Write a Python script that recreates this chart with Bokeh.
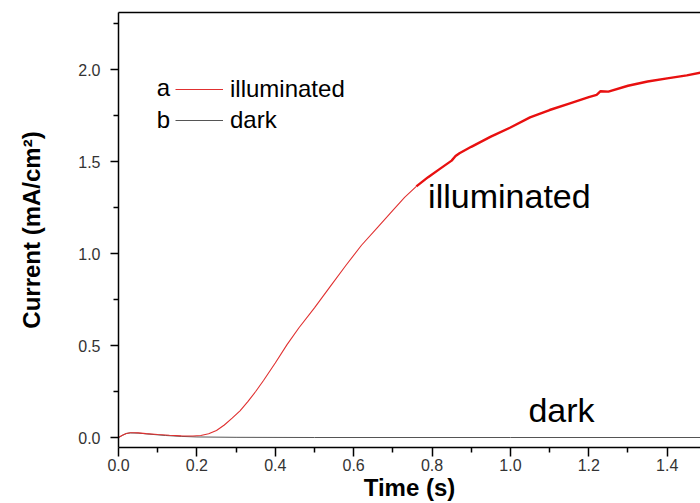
from bokeh.plotting import figure
from bokeh.models import (Range1d, FixedTicker, PrintfTickFormatter, Label,
                          Legend, LegendItem, LinearAxis)
from bokeh.embed import file_html
from bokeh.resources import INLINE

# ---- data ----
illum_t = [0.00, 0.01, 0.02, 0.03, 0.04, 0.05, 0.07, 0.10, 0.13, 0.16, 0.19,
           0.21, 0.23, 0.25, 0.27, 0.29, 0.31, 0.33, 0.35, 0.37, 0.40, 0.43,
           0.46, 0.50, 0.54, 0.58, 0.62, 0.66, 0.70, 0.73, 0.76]
illum_i = [0.000, 0.012, 0.022, 0.026, 0.026, 0.025, 0.021, 0.016, 0.012, 0.009, 0.008,
           0.011, 0.020, 0.038, 0.068, 0.105, 0.145, 0.195, 0.250, 0.310, 0.405, 0.505,
           0.595, 0.705, 0.820, 0.935, 1.045, 1.140, 1.235, 1.305, 1.365]
illum_t2 = [0.76, 0.79, 0.82, 0.85, 0.86, 0.87, 0.90, 0.95, 1.00, 1.05, 1.10, 1.15,
            1.20, 1.22, 1.23, 1.25, 1.30, 1.35, 1.40, 1.45, 1.49]
illum_i2 = [1.365, 1.415, 1.460, 1.505, 1.530, 1.545, 1.580, 1.635, 1.685, 1.740, 1.780, 1.815,
            1.850, 1.862, 1.882, 1.880, 1.912, 1.935, 1.952, 1.968, 1.985]
dark_t = [0.00, 0.01, 0.02, 0.03, 0.05, 0.08, 0.12, 0.16, 0.20, 0.30, 0.50, 1.00, 1.49]
dark_i = [0.000, 0.012, 0.022, 0.025, 0.024, 0.018, 0.011, 0.006, 0.003, 0.001, 0.000, 0.000, 0.000]

x_ticks = [0.0, 0.2, 0.4, 0.6, 0.8, 1.0, 1.2, 1.4]
x_minor = [0.1, 0.3, 0.5, 0.7, 0.9, 1.1, 1.3]
y_ticks = [0.0, 0.5, 1.0, 1.5, 2.0]
y_minor = [0.25, 0.75, 1.25, 1.75, 2.25]

FONT = "Liberation Sans"

p = figure(width=700, height=503, output_backend="svg", toolbar_location=None,
           x_range=Range1d(0, 1.485), y_range=Range1d(-0.0543, 2.31),
           min_border_left=118, min_border_right=0, min_border_top=12,
           min_border_bottom=56)
p.grid.visible = False
p.outline_line_color = None
p.background_fill_color = "white"
p.border_fill_color = "white"

r_dark = p.line(dark_t, dark_i, line_color="#555555", line_width=1.0)
r_il = p.line(illum_t, illum_i, line_color="#e03030", line_width=1.1)
r_il2 = p.line(illum_t2, illum_i2, line_color="#e81010", line_width=2.4)

# axes
xa = p.xaxis[0]
xa.ticker = FixedTicker(ticks=x_ticks, minor_ticks=x_minor)
xa.formatter = PrintfTickFormatter(format="%.1f")
xa.axis_label = "Time (s)"
ya = p.yaxis[0]
ya.ticker = FixedTicker(ticks=y_ticks, minor_ticks=y_minor)
ya.formatter = PrintfTickFormatter(format="%.1f")
ya.axis_label = "Current (mA/cm²)"
for ax in (xa, ya):
    ax.axis_line_color = "black"
    ax.axis_line_width = 1.5
    ax.major_tick_line_color = "black"
    ax.minor_tick_line_color = "black"
    ax.major_tick_line_width = 1.5
    ax.minor_tick_line_width = 1.5
    ax.major_tick_in = 0
    ax.minor_tick_in = 0
    ax.major_label_text_font = FONT
    ax.major_label_text_font_size = "16px"
    ax.major_label_text_color = "#333333"
    ax.axis_label_text_font = FONT
    ax.axis_label_text_font_size = "24px"
    ax.axis_label_text_font_style = "bold"
    ax.axis_label_text_color = "black"
xa.major_tick_out = 9
xa.minor_tick_out = 5
xa.major_label_standoff = 2
xa.axis_label_standoff = 0
ya.major_tick_out = 8
ya.minor_tick_out = 5
ya.major_label_standoff = 10
ya.axis_label_standoff = 30

top = LinearAxis(major_tick_line_color=None, minor_tick_line_color=None,
                 major_label_text_font_size="0px", axis_line_color="black",
                 axis_line_width=1.5, major_label_text_color=None)
p.add_layout(top, "above")

# legend
leg = Legend(items=[LegendItem(label="illuminated", renderers=[r_il]),
                    LegendItem(label="dark", renderers=[r_dark])],
             location=(57, 313), padding=0, margin=0, spacing=3,
             glyph_width=48, glyph_height=22, label_height=22, label_standoff=7,
             label_text_font=FONT, label_text_font_size="24px",
             label_text_color="black",
             border_line_alpha=0, background_fill_alpha=0)
p.add_layout(leg, "center")
for txt, yy in (("a", 360), ("b", 328)):
    p.add_layout(Label(x=45, y=yy, x_units="screen", y_units="screen", text=txt,
                       text_font=FONT, text_font_size="24px", text_align="center",
                       text_baseline="middle", text_color="black"))

# annotations
p.add_layout(Label(x=0.79, y=1.31, text="illuminated", text_font=FONT,
                   text_font_size="34px", text_baseline="middle", text_color="black"))
p.add_layout(Label(x=1.046, y=0.147, text="dark", text_font=FONT,
                   text_font_size="34px", text_baseline="middle", text_color="black"))

open("out.html", "w").write(file_html(p, INLINE))
